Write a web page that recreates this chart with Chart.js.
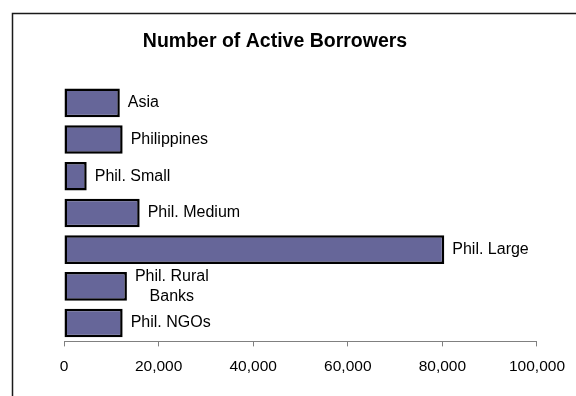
<!DOCTYPE html>
<html>
<head>
<meta charset="utf-8">
<script src="https://cdn.jsdelivr.net/npm/chart.js@4/dist/chart.umd.min.js"></script>
<style>
  html, body { margin: 0; padding: 0; background: #fff; }
  #wrap { width: 576px; height: 396px; position: relative; }
</style>
</head>
<body>
<div id="wrap"><canvas id="chartPrestatarios"></canvas></div>
<script>
// ── Datos ─────────────────────────────────────────────
const titulo = 'Number of Active Borrowers';
const categorias = ['Asia', 'Philippines', 'Phil. Small', 'Phil. Medium', 'Phil. Large', ['Phil. Rural', 'Banks'], 'Phil. NGOs'];
const prestatarios = [11800, 12400, 4800, 16000, 80400, 13300, 12400];
const ticksX = [0, 20000, 40000, 60000, 80000, 100000];

const FUENTE = 'Arial, "Liberation Sans", sans-serif';

// marco, título y etiquetas junto a cada barra
const pluginMarco = {
    id: 'marco',
    beforeDraw(chart) {
        const c = chart.ctx;
        c.save();
        c.strokeStyle = '#1a1a1a';
        c.lineWidth = 1.5;
        c.beginPath();
        c.moveTo(12.5, 396);
        c.lineTo(12.5, 13.5);
        c.lineTo(576, 13.5);
        c.stroke();
        c.restore();
    },
    afterDatasetsDraw(chart) {
        const c = chart.ctx;
        c.save();
        c.fillStyle = '#000';
        c.font = 'bold 19.5px ' + FUENTE;
        c.textAlign = 'center';
        c.textBaseline = 'middle';
        c.fillText(titulo, 275, 42);

        c.font = '16px ' + FUENTE;
        const meta = chart.getDatasetMeta(0);
        meta.data.forEach((bar, i) => {
            const lineas = [].concat(categorias[i]);
            const ancho = Math.max(...lineas.map(l => c.measureText(l).width));
            const x0 = bar.x + 8;
            const alto = 20;
            lineas.forEach((l, k) => {
                const y = bar.y + (k - (lineas.length - 1) / 2) * alto;
                c.textAlign = lineas.length > 1 ? 'center' : 'left';
                c.fillText(l, lineas.length > 1 ? x0 + ancho / 2 : x0, y);
            });
        });
        c.restore();
    }
};

new Chart(document.getElementById('chartPrestatarios'), {
    type: 'bar',
    data: {
        labels: categorias,
        datasets: [{
            data: prestatarios,
            backgroundColor: '#666699',
            borderColor: '#000',
            borderWidth: 2.5,
            borderSkipped: false,
            barPercentage: 0.78,
            categoryPercentage: 1
        }]
    },
    options: {
        indexAxis: 'y',
        responsive: true,
        maintainAspectRatio: false,
        animation: false,
        layout: { padding: { left: 64, right: 38, top: 84.5, bottom: 9 } },
        plugins: {
            legend: { display: false },
            title: { display: false },
            tooltip: { enabled: false }
        },
        scales: {
            y: { display: false },
            x: {
                min: 0,
                max: 100000,
                afterBuildTicks: ax => { ax.ticks = ticksX.map(v => ({ value: v })); },
                grid: { drawOnChartArea: false, drawTicks: true, tickLength: 5, color: '#808080' },
                border: { color: '#808080', width: 1 },
                ticks: {
                    color: '#000',
                    padding: 11,
                    maxRotation: 0,
                    font: { family: FUENTE, size: 15.5 },
                    callback: v => Number(v).toLocaleString('en-US')
                }
            }
        }
    },
    plugins: [pluginMarco]
});
</script>
</body>
</html>
